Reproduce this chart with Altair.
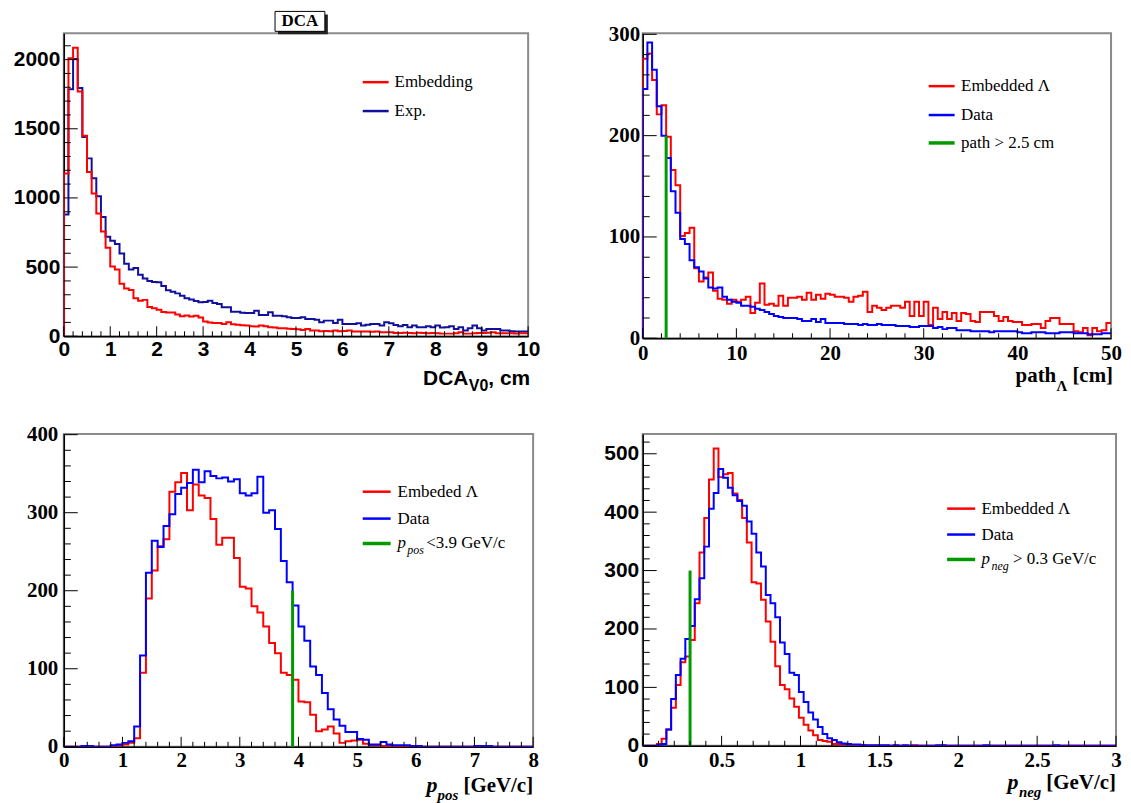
import altair as alt
import numpy as np
import pandas as pd

SANS = "Liberation Sans"
SERIF = "Liberation Serif"
RED = "#ff0000"
BLUE = "#0000ff"
NAVY = "#10109c"
GREEN = "#009a00"

# ---------------- Panel 1 : DCA of V0 (100 bins, 0-10 cm) ----------------
dca_range = [0, 10]
dca_ymax = 2190
dca_embedding = [
    1176, 2010, 2085, 1770, 1450, 1188, 1032, 888, 758, 640,
    505, 482, 380, 345, 335, 275, 256, 263, 212, 203,
    191, 176, 172, 172, 158, 145, 150, 143, 148, 135,
    106, 100, 96, 96, 89, 101, 86, 84, 80, 77,
    73, 70, 77, 72, 65, 63, 58, 58, 55, 53,
    50, 46, 53, 41, 41, 36, 38, 36, 41, 36,
    38, 41, 34, 34, 34, 34, 32, 34, 29, 29,
    29, 24, 24, 26, 24, 22, 26, 24, 22, 24,
    22, 19, 19, 19, 22, 29, 19, 19, 22, 24,
    24, 26, 29, 22, 22, 22, 22, 19, 22, 22]
dca_exp = [
    880, 1785, 2005, 1795, 1440, 1286, 1143, 1012, 862, 720,
    690, 667, 598, 524, 483, 493, 445, 417, 400, 393,
    390, 364, 333, 321, 310, 293, 274, 265, 255, 245,
    248, 257, 240, 233, 209, 209, 178, 178, 170, 168,
    168, 185, 154, 154, 173, 149, 149, 144, 137, 132,
    132, 137, 125, 125, 120, 101, 113, 113, 96, 120,
    89, 89, 89, 94, 77, 84, 89, 89, 77, 101,
    94, 82, 72, 82, 65, 77, 65, 65, 72, 65,
    77, 63, 65, 72, 53, 65, 41, 58, 77, 58,
    41, 53, 53, 53, 41, 41, 36, 34, 34, 34]
dca_xticks = [0, 1, 2, 3, 4, 5, 6, 7, 8, 9, 10]
dca_yticks = [0, 500, 1000, 1500, 2000]
dca_legend = ["Embedding", "Exp."]
dca_header = "DCA"

# ---------------- Panel 2 : decay path (100 bins, 0-50 cm) ----------------
path_range = [0, 50]
path_ymax = 301
path_embedded = [
    276, 281, 255, 221, 230, 199, 166, 151, 101, 104,
    109, 69, 56, 60, 65, 47, 39, 38, 34, 38,
    36, 38, 41, 25, 35, 54, 33, 34, 32, 42,
    32, 40, 40, 41, 38, 45, 38, 43, 39, 44,
    43, 41, 41, 40, 36, 41, 42, 46, 26, 32,
    30, 28, 30, 32, 32, 30, 36, 22, 36, 22,
    36, 13, 30, 19, 26, 19, 25, 17, 25, 24,
    17, 16, 26, 26, 26, 22, 17, 21, 17, 16,
    16, 13, 13, 14, 14, 10, 17, 20, 20, 14,
    14, 14, 7, 6, 10, 3, 10, 7, 8, 15]
path_data = [
    246, 292, 265, 229, 200, 178, 145, 124, 98, 93,
    77, 70, 66, 59, 50, 49, 50, 41, 38, 36,
    35, 32, 32, 31, 29, 28, 26, 24, 22, 21,
    20, 20, 20, 19, 17, 17, 19, 16, 19, 15,
    15, 15, 15, 14, 14, 14, 13, 14, 13, 13,
    14, 13, 13, 13, 12, 12, 12, 11, 11, 12,
    12, 12, 10, 11, 9, 10, 10, 8, 8, 8,
    7, 7, 7, 7, 6, 7, 7, 7, 7, 7,
    6, 5, 5, 6, 6, 6, 5, 5, 5, 6,
    6, 6, 5, 5, 5, 4, 4, 4, 5, 5]
path_cut = {"x": [2.5], "top": [200]}
path_xticks = [0, 10, 20, 30, 40, 50]
path_yticks = [0, 100, 200, 300]
path_legend = ["Embedded \u039b", "Data", "path > 2.5 cm"]

# ---------------- Panel 3 : positive daughter momentum (80 bins, 0-8) ----------------
ppos_range = [0, 8]
ppos_ymax = 401
ppos_embedded = [
    0, 0, 0, 0, 0, 0, 0, 0, 1, 2,
    3, 5, 11, 95, 190, 226, 257, 266, 327, 339,
    351, 303, 336, 322, 319, 292, 259, 268, 268, 242,
    205, 203, 180, 172, 154, 133, 120, 95, 92, 86,
    58, 57, 41, 20, 22, 26, 17, 5, 7, 8,
    9, 4, 2, 2, 1, 1, 1, 0, 0, 0,
    0, 0, 0, 0, 0, 0, 0, 0, 0, 0,
    1, 1, 1, 0, 0, 0, 0, 0, 0, 0]
ppos_data = [
    0, 0, 0, 1, 1, 0, 0, 0, 2, 3,
    5, 7, 26, 117, 223, 264, 256, 283, 298, 324,
    332, 338, 355, 339, 353, 347, 344, 345, 340, 343,
    325, 322, 325, 346, 300, 303, 279, 238, 211, 181,
    154, 136, 103, 92, 69, 48, 35, 27, 19, 19,
    10, 9, 3, 3, 6, 3, 2, 2, 2, 1,
    1, 0, 0, 0, 0, 0, 0, 0, 0, 0,
    1, 1, 1, 0, 0, 0, 0, 0, 0, 0]
ppos_cut = {"x": [3.9], "top": [200]}
ppos_xticks = [0, 1, 2, 3, 4, 5, 6, 7, 8]
ppos_yticks = [0, 100, 200, 300, 400]
ppos_legend = ["Embeded \u039b", "Data", "p", "pos", "<3.9 GeV/c"]

# ---------------- Panel 4 : negative daughter momentum (100 bins, 0-3) ----------------
pneg_range = [0, 3]
pneg_ymax = 534
pneg_embedded = [
    0, 0, 0, 3, 12, 28, 65, 104, 143, 153,
    181, 244, 331, 390, 456, 509, 460, 465, 467, 432,
    421, 390, 348, 280, 278, 250, 213, 178, 136, 104,
    97, 81, 67, 48, 36, 26, 18, 10, 8, 7,
    3, 3, 2, 2, 1, 1, 1, 0, 0, 0,
    0, 0, 0, 0, 0, 0, 0, 1, 0, 0,
    0, 0, 0, 0, 0, 0, 0, 0, 0, 0,
    0, 0, 0, 0, 0, 0, 0, 0, 0, 0,
    0, 0, 0, 0, 0, 0, 0, 0, 0, 0,
    0, 0, 0, 0, 0, 0, 0, 0, 0, 0]
pneg_data = [
    0, 0, 0, 1, 3, 28, 80, 121, 149, 183,
    205, 251, 287, 341, 406, 433, 474, 459, 442, 429,
    419, 411, 384, 363, 331, 307, 258, 244, 220, 177,
    157, 125, 121, 92, 75, 57, 45, 32, 20, 13,
    10, 6, 4, 3, 2, 2, 1, 1, 1, 1,
    1, 1, 0, 1, 0, 1, 0, 0, 0, 0,
    0, 0, 1, 1, 0, 0, 0, 0, 0, 0,
    0, 0, 1, 0, 0, 0, 0, 0, 0, 0,
    0, 0, 0, 0, 0, 0, 0, 1, 0, 0,
    0, 0, 0, 0, 0, 0, 0, 0, 0, 0]
pneg_cut = {"x": [0.3], "top": [300]}
pneg_xticks = [0, 0.5, 1, 1.5, 2, 2.5, 3]
pneg_yticks = [0, 100, 200, 300, 400, 500]
pneg_legend = ["Embedded \u039b", "Data", "p", "neg", "> 0.3 GeV/c"]


# ---------------- helpers ----------------
def step_frame(vals, lo, hi):
    n = len(vals)
    w = (hi - lo) / n
    xs = [lo] + [lo + i * w for i in range(n)] + [hi]
    ys = [0] + list(vals) + [vals[-1]]
    return pd.DataFrame({"x": xs, "y": ys, "o": list(range(n + 2))})


def minor_ticks(lo, hi, step, majors):
    vals = np.round(np.arange(lo, hi + step / 2, step), 6)
    return [float(v) for v in vals if not any(abs(v - m) < 1e-6 for m in majors)]


def label(text, x, y, size=17, font=SERIF, weight="normal", style="normal",
          align="left", baseline="middle"):
    return alt.Chart(pd.DataFrame({"t": [text]})).mark_text(
        font=font, fontSize=size, fontWeight=weight, fontStyle=style,
        align=align, baseline=baseline, color="black"
    ).encode(x=alt.value(x), y=alt.value(y), text="t:N")


def seg(x1, x2, y, color, width=2.5):
    return alt.Chart(pd.DataFrame({"t": [0]})).mark_rule(
        color=color, strokeWidth=width
    ).encode(x=alt.value(x1), x2=alt.value(x2), y=alt.value(y))


def panel(width, height, xr, ymax, series, xmaj, xminor_step, ymaj, yminor_step,
          xfmt, xfont, yfont, xpad, ypad, cut=None, extra=()):
    xs = alt.Scale(domain=xr, nice=False, zero=False)
    ys = alt.Scale(domain=[0, ymax], nice=False, zero=False)
    common = dict(ticks=False, grid=False, domain=True, domainColor="black",
                  domainWidth=1.5, labelFontSize=21, labelFontWeight="bold",
                  labelColor="black", labelFlush=False, labelOverlap=False, title=None)
    xaxis = alt.Axis(values=xmaj, format=xfmt, labelFont=xfont, labelPadding=xpad, **common)
    yaxis = alt.Axis(values=ymaj, format="d", labelFont=yfont, labelPadding=ypad, **common)
    layers = []
    for vals, color in series:
        layers.append(
            alt.Chart(step_frame(vals, xr[0], xr[1])).mark_line(
                interpolate="step-after", color=color, strokeWidth=2, clip=True
            ).encode(
                x=alt.X("x:Q", scale=xs, axis=xaxis),
                y=alt.Y("y:Q", scale=ys, axis=yaxis),
                order=alt.Order("o:Q"),
            )
        )
    if cut is not None:
        layers.append(
            alt.Chart(pd.DataFrame({"x": cut["x"], "y": [0], "y1": cut["top"]})).mark_rule(
                color=GREEN, strokeWidth=3
            ).encode(x=alt.X("x:Q", scale=xs, axis=xaxis),
                     y=alt.Y("y:Q", scale=ys, axis=yaxis), y2="y1:Q")
        )
    # inward ticks (ROOT style)
    xminor = minor_ticks(xr[0], xr[1], xminor_step, xmaj)
    ytop = ymaj + [ymaj[-1] + (ymaj[1] - ymaj[0])]
    yminor = [v for v in minor_ticks(0, ymax, yminor_step, ytop) if v <= ymax]
    for vals, ln, ch in [(xmaj, 10, "x"), (xminor, 5, "x"), (ymaj, 14, "y"), (yminor, 7, "y")]:
        if ch == "x":
            df = pd.DataFrame({"x": vals})
            enc = dict(x=alt.X("x:Q", scale=xs, axis=xaxis), y=alt.value(height), y2=alt.value(height - ln))
        else:
            df = pd.DataFrame({"y": vals})
            enc = dict(y=alt.Y("y:Q", scale=ys, axis=yaxis), x=alt.value(0), x2=alt.value(ln))
        layers.append(alt.Chart(df).mark_rule(color="black", strokeWidth=1).encode(**enc))
    layers.extend(extra)
    return alt.layer(*layers).properties(width=width, height=height)


# ---------------- panels ----------------
W1, H1 = 466, 304
tl_extra = [
    alt.Chart(pd.DataFrame({"t": [0]})).mark_rect(color="#222222").encode(
        x=alt.value(215), x2=alt.value(265), y=alt.value(-19), y2=alt.value(1)),
    alt.Chart(pd.DataFrame({"t": [0]})).mark_rect(fill="white", stroke="black", strokeWidth=1).encode(
        x=alt.value(212), x2=alt.value(262), y=alt.value(-22), y2=alt.value(-2)),
    label(dca_header, 237, -12, size=17, weight="bold", align="center"),
    seg(300, 326, 49, RED), label(dca_legend[0], 332, 49),
    seg(300, 326, 78, NAVY), label(dca_legend[1], 332, 78),
    label(", cm", W1 + 2, H1 + 49, size=21, font=SANS, weight="bold", align="right", baseline="alphabetic"),
    label("V0", W1 - 40, H1 + 55, size=16, font=SANS, weight="bold", align="right", baseline="alphabetic"),
    label("DCA", W1 - 60, H1 + 49, size=21, font=SANS, weight="bold", align="right", baseline="alphabetic"),
]
tl = panel(W1, H1, dca_range, dca_ymax, [(dca_exp, NAVY), (dca_embedding, RED)],
           dca_xticks, 0.2, dca_yticks, 100, "d", SANS, SANS, 2, 4, extra=tl_extra)

W2, H2 = 470, 306
tr_extra = [
    seg(287, 313, 53, RED), label(path_legend[0], 319.5, 53),
    seg(287, 313, 82, BLUE), label(path_legend[1], 319.5, 82),
    seg(287, 313, 110, GREEN, 3.5), label(path_legend[2], 319.5, 110),
    label("[cm]", W2 + 2, H2 + 44, size=21, weight="bold", align="right", baseline="alphabetic"),
    label("\u039b", W2 - 44, H2 + 53, size=15, weight="bold", align="right", baseline="alphabetic"),
    label("path", W2 - 55, H2 + 44, size=21, weight="bold", align="right", baseline="alphabetic"),
]
tr = panel(W2, H2, path_range, path_ymax, [(path_embedded, RED), (path_data, BLUE)],
           path_xticks, 2, path_yticks, 20, "d", SERIF, SERIF, 4, 3, cut=path_cut, extra=tr_extra)

W3, H3 = 471, 314
bl_extra = [
    seg(300, 328, 58, RED), label(ppos_legend[0], 335, 58),
    seg(300, 328, 85, BLUE), label(ppos_legend[1], 335, 85),
    seg(300, 328, 110, GREEN, 3.5),
    label(ppos_legend[2], 335, 110, style="italic"),
    label(ppos_legend[3], 344.7, 117, size=12, style="italic"),
    label(ppos_legend[4], 363.7, 110),
    label("[GeV/c]", W3, H3 + 45, size=21, weight="bold", align="right", baseline="alphabetic"),
    label("pos", W3 - 75, H3 + 53, size=15, weight="bold", style="italic", align="right", baseline="alphabetic"),
    label("p", W3 - 96, H3 + 45, size=22, weight="bold", style="italic", align="right", baseline="alphabetic"),
]
bl = panel(W3, H3, ppos_range, ppos_ymax, [(ppos_embedded, RED), (ppos_data, BLUE)],
           ppos_xticks, 0.2, ppos_yticks, 20, "d", SERIF, SERIF, 3, 6, cut=ppos_cut, extra=bl_extra)

W4, H4 = 475, 313
br_extra = [
    seg(305.5, 333.6, 75, RED), label(pneg_legend[0], 340, 75),
    seg(305.5, 333.6, 101, BLUE), label(pneg_legend[1], 340, 101),
    seg(305.5, 333.6, 126, GREEN, 3.5),
    label(pneg_legend[2], 340, 126, style="italic"),
    label(pneg_legend[3], 350, 133, size=12, style="italic"),
    label(pneg_legend[4], 371.6, 126),
    label("[GeV/c]", W4, H4 + 43, size=21, weight="bold", align="right", baseline="alphabetic"),
    label("neg", W4 - 75, H4 + 51, size=15, weight="bold", style="italic", align="right", baseline="alphabetic"),
    label("p", W4 - 98, H4 + 43, size=22, weight="bold", style="italic", align="right", baseline="alphabetic"),
]
br = panel(W4, H4, pneg_range, pneg_ymax, [(pneg_embedded, RED), (pneg_data, BLUE)],
           pneg_xticks, 0.1, pneg_yticks, 20, "~g", SERIF, SANS, 4, 4, cut=pneg_cut, extra=br_extra)

chart = alt.concat(
    tl, tr, bl, br, columns=2,
    spacing={"row": 96, "column": 110}, bounds="flush", align="none"
).properties(
    padding={"left": 4, "top": 0, "right": 0, "bottom": 0}, background="white"
).configure_view(stroke="#8a8a8a", strokeWidth=2)

chart.save("out.html", embed_options={"renderer": "svg", "actions": False})
